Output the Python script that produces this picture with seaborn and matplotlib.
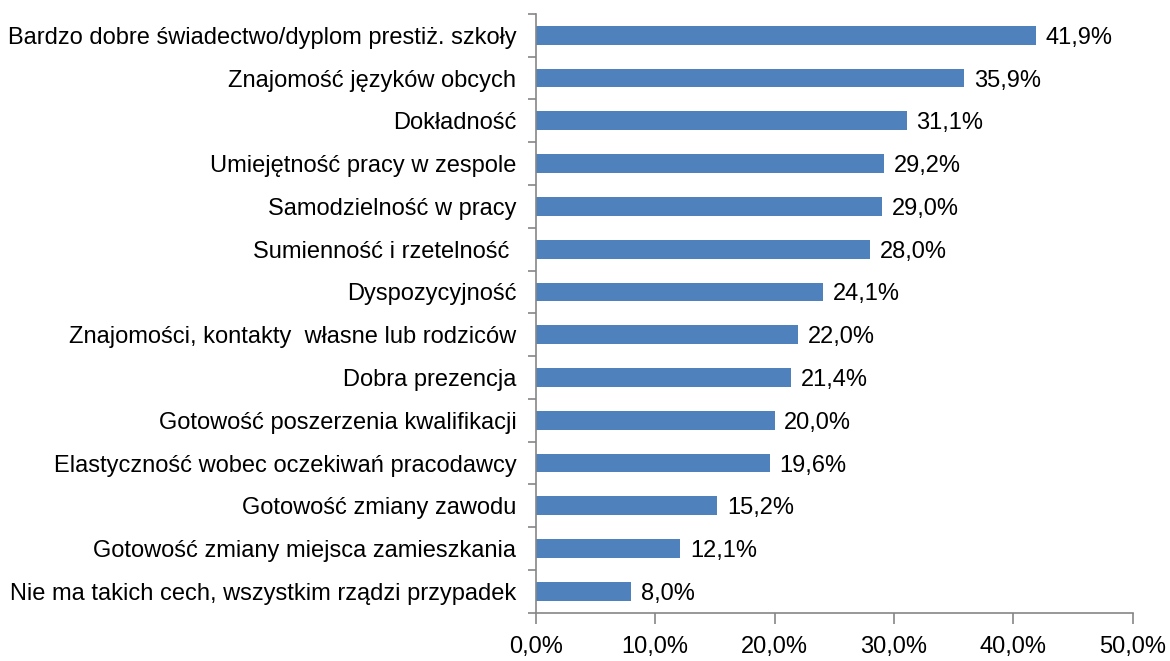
import pandas as pd
import matplotlib.pyplot as plt
import matplotlib.ticker as mticker
import seaborn as sns

# Data
categories = [
    "Bardzo dobre świadectwo/dyplom prestiż. szkoły",
    "Znajomość języków obcych",
    "Dokładność",
    "Umiejętność pracy w zespole",
    "Samodzielność w pracy",
    "Sumienność i rzetelność ",
    "Dyspozycyjność",
    "Znajomości, kontakty  własne lub rodziców",
    "Dobra prezencja",
    "Gotowość poszerzenia kwalifikacji",
    "Elastyczność wobec oczekiwań pracodawcy",
    "Gotowość zmiany zawodu",
    "Gotowość zmiany miejsca zamieszkania",
    "Nie ma takich cech, wszystkim rządzi przypadek",
]
values = [41.9, 35.9, 31.1, 29.2, 29.0, 28.0, 24.1, 22.0, 21.4, 20.0, 19.6, 15.2, 12.1, 8.0]
x_ticks = [0, 10, 20, 30, 40, 50]

df = pd.DataFrame({"Cecha": categories, "Procent": values})

sns.set_style("white")
plt.rcParams["font.family"] = ["Liberation Sans", "DejaVu Sans"]
plt.rcParams["text.color"] = "black"
plt.rcParams["xtick.color"] = "black"
plt.rcParams["ytick.color"] = "black"

fig = plt.figure(figsize=(11.7, 6.61), dpi=100)
ax = fig.add_axes([0.458, 0.073, 0.510, 0.906])

sns.barplot(data=df, x="Procent", y="Cecha", color="#4F81BD", width=0.44,
            saturation=1, linewidth=0, ax=ax, orient="h")

ax.set_xlim(0, 50)
ax.set_ylim(13.5, -0.5)
ax.set_xticks(x_ticks)
ax.xaxis.set_major_formatter(mticker.FuncFormatter(lambda v, p: f"{v:.1f}%".replace(".", ",")))
ax.set_xlabel("")
ax.set_ylabel("")

fs = 17
# y ticks at category boundaries
ax.set_yticks([i + 0.5 for i in range(-1, len(categories))], minor=True)
ax.tick_params(axis="y", which="minor", length=6, color="#868686", width=1.2, left=True)
ax.tick_params(axis="y", which="major", length=0, labelsize=fs, pad=14)
ax.tick_params(axis="x", which="major", length=8, color="#868686", width=1.2,
               bottom=True, labelsize=fs, pad=9)

for s in ["top", "right"]:
    ax.spines[s].set_visible(False)
for s in ["left", "bottom"]:
    ax.spines[s].set_color("#868686")
    ax.spines[s].set_linewidth(1.2)

for i, v in enumerate(values):
    ax.text(v + 0.8, i + 0.06, f"{v:.1f}%".replace(".", ","), va="center", ha="left", fontsize=fs)

plt.savefig("out.png", dpi=100)
